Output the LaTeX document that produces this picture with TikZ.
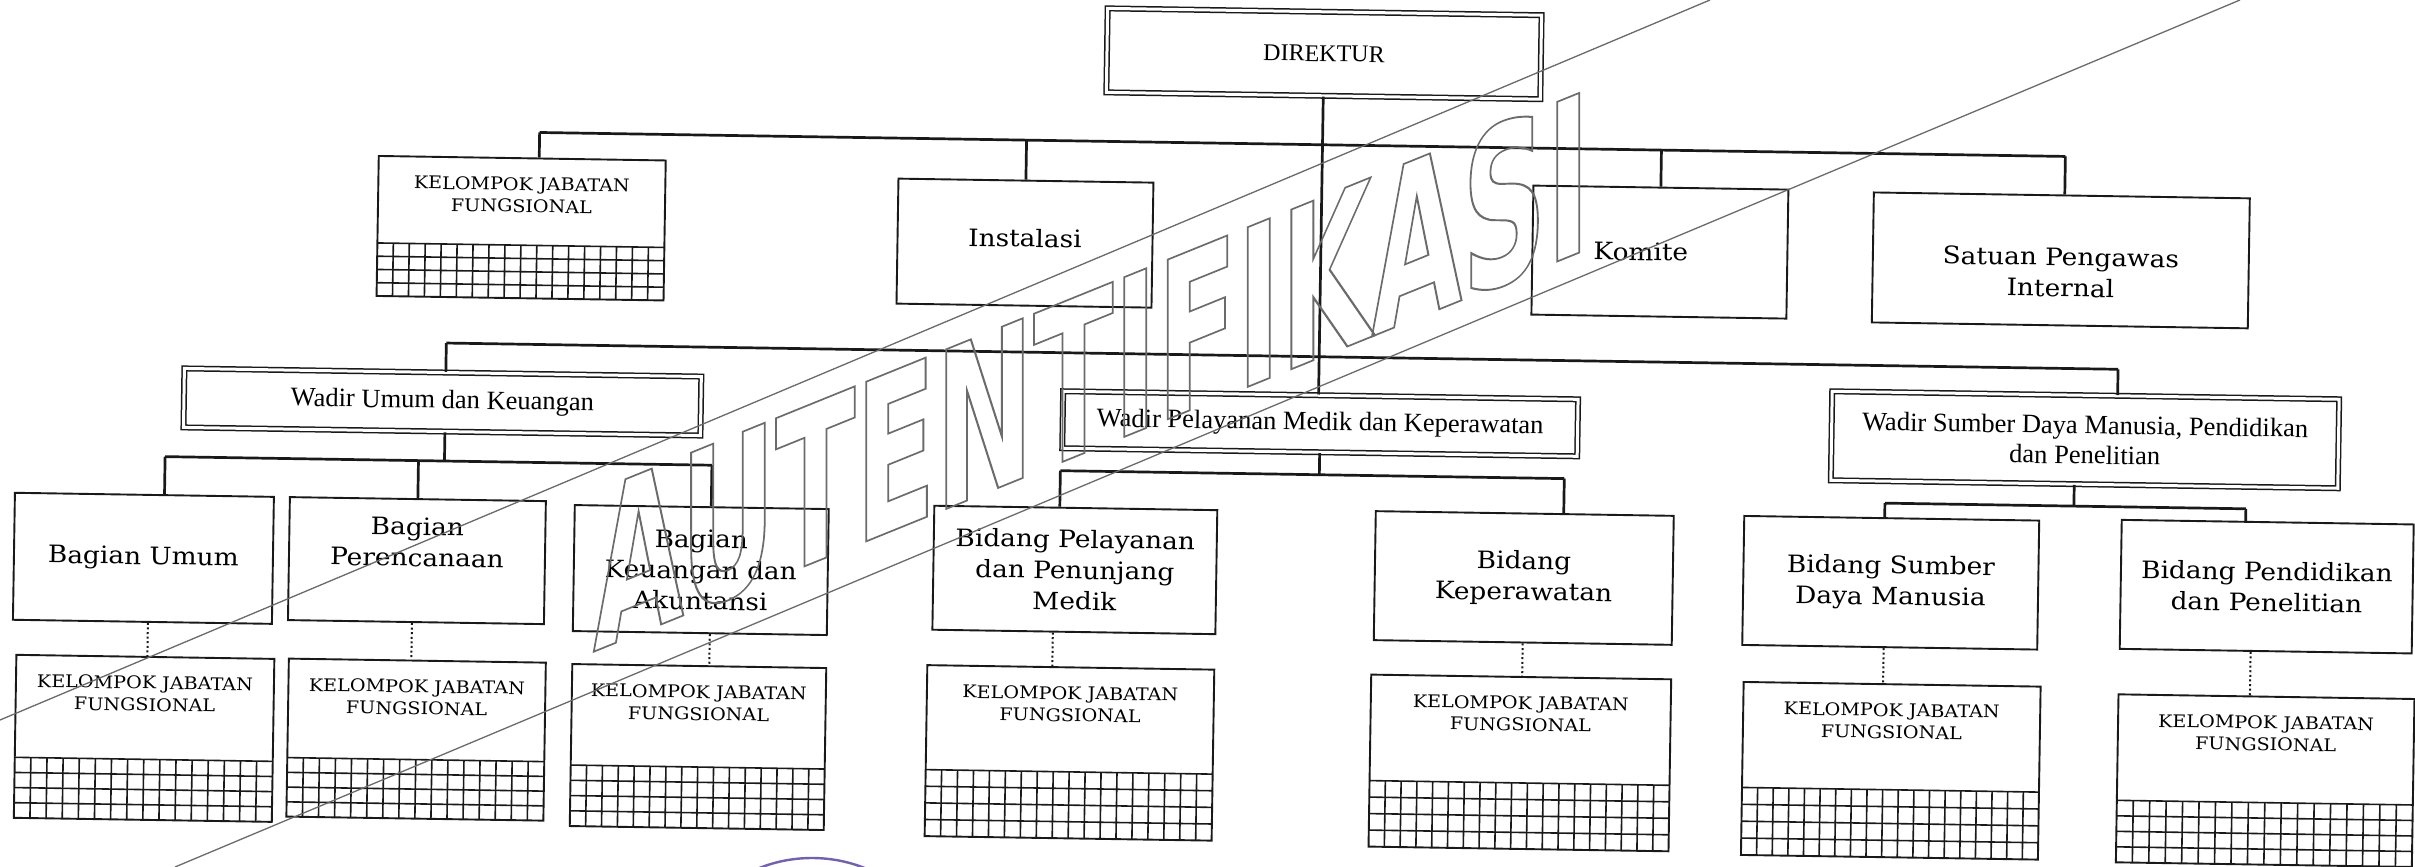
\documentclass[tikz,border=0pt]{standalone}
\usepackage{fontspec}
\setmainfont{Liberation Serif}
\newfontfamily\bkfont[FakeStretch=1.1]{DejaVu Serif}
\newfontfamily\wmfont[FakeStretch=0.535]{DejaVu Sans Bold}
\usetikzlibrary{calc}
\definecolor{ink}{gray}{0.1}
\definecolor{wmgray}{gray}{0.42}
\definecolor{stampc}{rgb}{0.45,0.38,0.68}
\tikzset{
  conn/.style={draw=ink, line width=2.7pt},
  dotconn/.style={draw=ink, line width=2pt, dash pattern=on 2pt off 2.6pt},
  orgbox/.style={rectangle, draw=ink, line width=1.9pt, fill=white, inner sep=0pt, align=center, font=\bkfont\fontsize{24}{31}\selectfont},
  dbox/.style={rectangle, draw=ink, double=white, double distance=3pt, line width=1.5pt, fill=white, inner sep=0pt, align=center, font=\fontsize{26.5}{30}\selectfont},
  kjftxt/.style={anchor=north, inner sep=0pt, align=center, font=\bkfont\fontsize{17.4}{22}\selectfont},
  inbox/.style={inner sep=0pt, align=center, font=\bkfont\fontsize{24}{31}\selectfont},
  gridln/.style={draw=ink, line width=1.6pt},
  wmline/.style={draw=wmgray, line width=1.3pt},
  wmtext/.style={anchor=base west, inner sep=0pt, yslant=0.405, text=wmgray, font=\wmfont\fontsize{219}{222}\selectfont},
}
% grid: left right gridtop bottom ncol nrow
\newcommand{\kjfgrid}[6]{%
  \pgfmathsetmacro{\gdx}{(#2-#1)/#5}%
  \pgfmathsetmacro{\gdy}{(#4-#3)/#6}%
  \pgfmathtruncatemacro{\gnc}{#5-1}%
  \pgfmathtruncatemacro{\gnr}{#6-1}%
  \draw[gridln] (#1,#3) -- (#2,#3);
  \foreach \i in {1,...,\gnc}{\draw[gridln] ({#1+\i*\gdx},#3) -- ({#1+\i*\gdx},#4);}
  \foreach \j in {1,...,\gnr}{\draw[gridln] (#1,{#3+\j*\gdy}) -- (#2,{#3+\j*\gdy});}
}
\begin{document}
\begin{tikzpicture}[x=1pt,y=-1pt]
\fill[white] (0,0) rectangle (2415,867);
\path[use as bounding box] (0,0) rectangle (2415,867);
\begin{scope}[rotate around={-0.9:(1207,433)}, transform shape]
% ---------- level 0
\node[dbox, minimum width=434pt, minimum height=84pt, font=\fontsize{24}{28}\selectfont] (dir) at (1318,52) {DIREKTUR};
% ---------- level 1
\node[orgbox, minimum width=287pt, minimum height=140pt] (kjf0) at (518,239) {};
\node[kjftxt] (kjf0t) at (518,188) {KELOMPOK JABATAN\\FUNGSIONAL};
\kjfgrid{374.5}{661.5}{256}{309}{18}{4}
\node[orgbox, minimum width=255pt, minimum height=125pt] (inst) at (1022,246) {};
\node[inbox] (instt) at (1022,241) {Instalasi};
\node[orgbox, minimum width=255pt, minimum height=129pt] (kom) at (1657,245) {};
\node[inbox] (komt) at (1638,245) {Komite};
\node[orgbox, minimum width=376pt, minimum height=130pt] (spi) at (2058,247) {};
\node[inbox] (spit) at (2058,259) {Satuan Pengawas\\Internal};
\coordinate (t1) at (535,143);
\coordinate (t2) at (2061,143);
\draw[conn] (t1) -- (t2);
\draw[conn] (t1) -- (t1 |- kjf0.north);
\draw[conn] (inst.north |- t1) -- (inst.north);
\draw[conn] (kom.north |- t1) -- (kom.north);
\draw[conn] (t2) -- (t2 |- spi.north);
% ---------- level 2
\node[dbox, minimum width=517pt, minimum height=59pt] (wum) at (442,414) {Wadir Umum dan Keuangan};
\node[dbox, minimum width=515pt, minimum height=57pt] (wpel) at (1320,422) {Wadir Pelayanan Medik dan Keperawatan};
\node[dbox, minimum width=507pt, minimum height=89pt] (wsdm) at (2085,426) {Wadir Sumber Daya Manusia, Pendidikan\\dan Penelitian};
\draw[conn] (dir.south) -- (dir.south |- wpel.north);
\coordinate (s1) at (445,355);
\coordinate (s2) at (2117,355);
\draw[conn] (s1) -- (s2);
\draw[conn] (s1) -- (s1 |- wum.north);
\draw[conn] (s2) -- (s2 |- wsdm.north);
% ---------- level 3 : Wadir Umum
\node[orgbox, minimum width=259pt, minimum height=127pt] (bu) at (145.5,575) {Bagian Umum};
\node[orgbox, minimum width=256pt, minimum height=123pt] (bp) at (419,573) {};
\node[inbox] (bpt) at (419,554.5) {Bagian\\Perencanaan};
\node[orgbox, minimum width=254pt, minimum height=126pt] (bk) at (703,578) {Bagian\\Keuangan dan\\Akuntansi};
\coordinate (u0) at (445,473);
\coordinate (u1) at (165.6,473);
\coordinate (u2) at (712.5,473);
\draw[conn] (u0 |- wum.south) -- (u0);
\draw[conn] (u1) -- (u2);
\draw[conn] (u1) -- (u1 |- bu.north);
\draw[conn] (bp.north |- u1) -- (bp.north);
\draw[conn] (u2) -- (u2 |- bk.north);
% ---------- level 3 : Wadir Pelayanan
\node[orgbox, minimum width=283pt, minimum height=124pt] (bpl) at (1077,572) {Bidang Pelayanan\\dan Penunjang\\Medik};
\node[orgbox, minimum width=298pt, minimum height=129pt] (bkp) at (1526,573) {Bidang\\Keperawatan};
\coordinate (p1) at (1061,473);
\coordinate (p2) at (1565,473);
\draw[conn] (wpel.south) -- (wpel.south |- p1);
\draw[conn] (p1) -- (p2);
\draw[conn] (p1) -- (p1 |- bpl.north);
\draw[conn] (p2) -- (p2 |- bkp.north);
% ---------- level 3 : Wadir SDM
\node[orgbox, minimum width=295pt, minimum height=129pt] (bsdm) at (1893,572) {Bidang Sumber\\Daya Manusia};
\node[orgbox, minimum width=292pt, minimum height=129pt] (bpd) at (2269,570) {Bidang Pendidikan\\dan Penelitian};
\coordinate (q0) at (2075,492.5);
\coordinate (q1) at (1886,492.5);
\coordinate (q2) at (2247,492.5);
\draw[conn] (q0 |- wsdm.south) -- (q0);
\draw[conn] (q1) -- (q2);
\draw[conn] (q1) -- (q1 |- bsdm.north);
\draw[conn] (q2) -- (q2 |- bpd.north);
% ---------- KJF row
\node[orgbox, minimum width=258pt, minimum height=163pt] (k1) at (149,755) {};
\node[kjftxt] (k1t) at (149,692.5) {KELOMPOK JABATAN\\FUNGSIONAL};
\kjfgrid{20}{278}{776}{836.5}{16}{4}
\node[orgbox, minimum width=257pt, minimum height=158pt] (k2) at (421,752) {};
\node[kjftxt] (k2t) at (421,692) {KELOMPOK JABATAN\\FUNGSIONAL};
\kjfgrid{292.5}{549.5}{772}{831}{16}{4}
\node[orgbox, minimum width=254pt, minimum height=162pt] (k3) at (703,755) {};
\node[kjftxt] (k3t) at (703,693) {KELOMPOK JABATAN\\FUNGSIONAL};
\kjfgrid{576}{830}{775}{836}{16}{4}
\node[orgbox, minimum width=287pt, minimum height=171pt] (k4) at (1074.5,755) {};
\node[kjftxt] (k4t) at (1074.5,688.5) {KELOMPOK JABATAN\\FUNGSIONAL};
\kjfgrid{931}{1218}{774}{840.5}{18}{4}
\node[orgbox, minimum width=300pt, minimum height=172pt] (k5) at (1525,758) {};
\node[kjftxt] (k5t) at (1525,691) {KELOMPOK JABATAN\\FUNGSIONAL};
\kjfgrid{1375}{1675}{778}{844}{19}{4}
\node[orgbox, minimum width=297pt, minimum height=173pt] (k6) at (1896,760) {};
\node[kjftxt] (k6t) at (1896,692.5) {KELOMPOK JABATAN\\FUNGSIONAL};
\kjfgrid{1747.5}{2044.5}{779}{846.5}{19}{4}
\node[orgbox, minimum width=296pt, minimum height=168pt] (k7) at (2270.5,764) {};
\node[kjftxt] (k7t) at (2270.5,699) {KELOMPOK JABATAN\\FUNGSIONAL};
\kjfgrid{2122.5}{2418.5}{786}{848}{18}{4}
\coordinate (d1) at (151,0);
\coordinate (d2) at (415,0);
\coordinate (d3) at (713,0);
\coordinate (d4) at (1056,0);
\coordinate (d5) at (1526,0);
\coordinate (d6) at (1887,0);
\coordinate (d7) at (2254,0);
\draw[dotconn] (d1 |- bu.south) -- (d1 |- k1.north);
\draw[dotconn] (d2 |- bp.south) -- (d2 |- k2.north);
\draw[dotconn] (d3 |- bk.south) -- (d3 |- k3.north);
\draw[dotconn] (d4 |- bpl.south) -- (d4 |- k4.north);
\draw[dotconn] (d5 |- bkp.south) -- (d5 |- k5.north);
\draw[dotconn] (d6 |- bsdm.south) -- (d6 |- k6.north);
\draw[dotconn] (d7 |- bpd.south) -- (d7 |- k7.north);
\end{scope}
% ---------- stamp remnant and watermark
\coordinate (stamp) at (812,1001);
\draw[stampc, line width=2.4pt] (stamp) circle (143pt);
\coordinate (wa1) at (0,720);
\coordinate (wa2) at (1710,0);
\coordinate (wb1) at (175,867);
\coordinate (wb2) at (2240,0);
\draw[wmline] (wa1) -- (wa2);
\draw[wmline] (wb1) -- (wb2);
\node[wmtext] (wmark) at (593,652) {\special{pdf:literal direct 1 Tr 1.8 w}AUTENTIFIKASI};
\end{tikzpicture}
\end{document}
